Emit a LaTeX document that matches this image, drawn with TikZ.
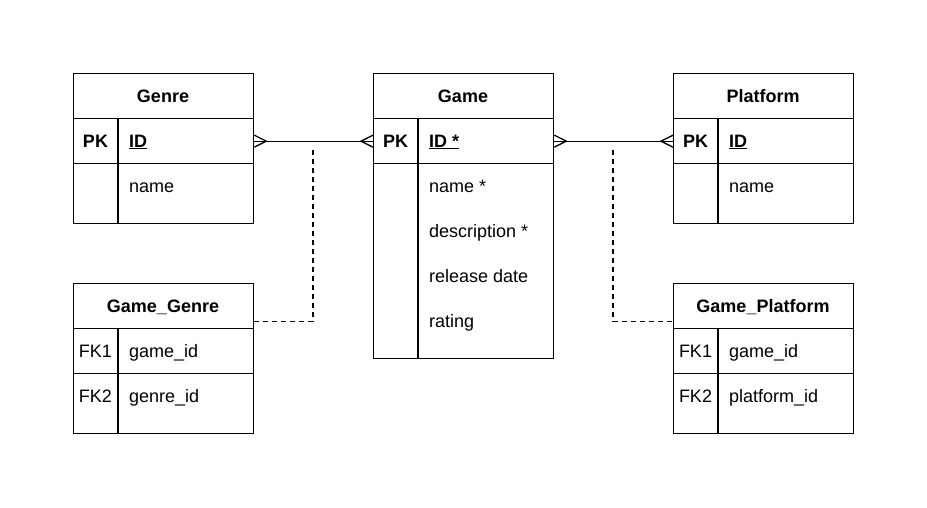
\documentclass[tikz,border=0pt]{standalone}
\usepackage{fontspec}
\setmainfont{Liberation Sans}
\begin{document}
\begin{tikzpicture}[x=1pt,y=-1pt,
  every node/.style={font=\fontsize{18}{22}\selectfont},
  cell/.style={draw, line width=1.3pt, inner sep=0pt, anchor=north west, minimum width=180pt},
  hdr/.style={inner sep=0pt, anchor=base, font=\fontsize{18}{22}\selectfont\bfseries},
  key/.style={inner sep=0pt, anchor=base},
  bkey/.style={inner sep=0pt, anchor=base, font=\fontsize{18}{22}\selectfont\bfseries},
  fld/.style={inner sep=0pt, anchor=base west},
  bfld/.style={inner sep=0pt, anchor=base west, font=\fontsize{18}{22}\selectfont\bfseries},
  sep/.style={line width=1.3pt},
  rel/.style={line width=1.3pt},
  dsh/.style={line width=1.3pt, dash pattern=on 5pt off 4pt}]
\useasboundingbox[fill=white] (0,0) rectangle (927,507);

% Genre
\node[cell, minimum height=45pt] (genreH) at (73,73) {};
\node[cell, minimum height=45pt] (genreR1) at (73,118) {};
\node[cell, minimum height=60pt] (genreR2) at (73,163) {};
\draw[sep] ([xshift=45pt]genreR1.north west) -- ([xshift=45pt]genreR2.south west);
\node[hdr] (genreT) at (163,102) {Genre};
\node[bkey] (genreK) at (95.5,147) {PK};
\node[bfld] (genreF1) at (129,147) {\underline{ID}};
\node[fld] (genreF2) at (129,192) {name};

% Game
\node[cell, minimum height=45pt] (gameH) at (373,73) {};
\node[cell, minimum height=45pt] (gameR1) at (373,118) {};
\node[cell, minimum height=195pt] (gameR2) at (373,163) {};
\draw[sep] ([xshift=45pt]gameR1.north west) -- ([xshift=45pt]gameR2.south west);
\node[hdr] (gameT) at (463,102) {Game};
\node[bkey] (gameK) at (395.5,147) {PK};
\node[bfld] (gameF1) at (429,147) {\underline{ID *}};
\node[fld] (gameF2) at (429,192) {name *};
\node[fld] (gameF3) at (429,237) {description *};
\node[fld] (gameF4) at (429,282) {release date};
\node[fld] (gameF5) at (429,327) {rating};

% Platform
\node[cell, minimum height=45pt] (platH) at (673,73) {};
\node[cell, minimum height=45pt] (platR1) at (673,118) {};
\node[cell, minimum height=60pt] (platR2) at (673,163) {};
\draw[sep] ([xshift=45pt]platR1.north west) -- ([xshift=45pt]platR2.south west);
\node[hdr] (platT) at (763,102) {Platform};
\node[bkey] (platK) at (695.5,147) {PK};
\node[bfld] (platF1) at (729,147) {\underline{ID}};
\node[fld] (platF2) at (729,192) {name};

% Game_Genre
\node[cell, minimum height=45pt] (ggH) at (73,283) {};
\node[cell, minimum height=45pt] (ggR1) at (73,328) {};
\node[cell, minimum height=60pt] (ggR2) at (73,373) {};
\draw[sep] ([xshift=45pt]ggR1.north west) -- ([xshift=45pt]ggR2.south west);
\node[hdr] (ggT) at (163,312) {Game\_Genre};
\node[key] (ggK1) at (95.5,357) {FK1};
\node[fld] (ggF1) at (129,357) {game\_id};
\node[key] (ggK2) at (95.5,402) {FK2};
\node[fld] (ggF2) at (129,402) {genre\_id};

% Game_Platform
\node[cell, minimum height=45pt] (gpH) at (673,283) {};
\node[cell, minimum height=45pt] (gpR1) at (673,328) {};
\node[cell, minimum height=60pt] (gpR2) at (673,373) {};
\draw[sep] ([xshift=45pt]gpR1.north west) -- ([xshift=45pt]gpR2.south west);
\node[hdr] (gpT) at (763,312) {Game\_Platform};
\node[key] (gpK1) at (695.5,357) {FK1};
\node[fld] (gpF1) at (729,357) {game\_id};
\node[key] (gpK2) at (695.5,402) {FK2};
\node[fld] (gpF2) at (729,402) {platform\_id};

% Relations
\draw[rel] (genreR1.east) -- (gameR1.west);
\draw[rel] ([yshift=6pt]genreR1.east) -- ([xshift=12pt]genreR1.east) -- ([yshift=-6pt]genreR1.east);
\draw[rel] ([yshift=6pt]gameR1.west) -- ([xshift=-12pt]gameR1.west) -- ([yshift=-6pt]gameR1.west);
\draw[rel] (gameR1.east) -- (platR1.west);
\draw[rel] ([yshift=6pt]gameR1.east) -- ([xshift=12pt]gameR1.east) -- ([yshift=-6pt]gameR1.east);
\draw[rel] ([yshift=6pt]platR1.west) -- ([xshift=-12pt]platR1.west) -- ([yshift=-6pt]platR1.west);

\coordinate (ggTop) at (313,150);
\coordinate (gpTop) at (613,150);
\draw[dsh] (ggTop) |- ([yshift=8pt]ggH.south east);
\draw[dsh] (gpTop) |- ([yshift=8pt]gpH.south west);
\end{tikzpicture}
\end{document}
